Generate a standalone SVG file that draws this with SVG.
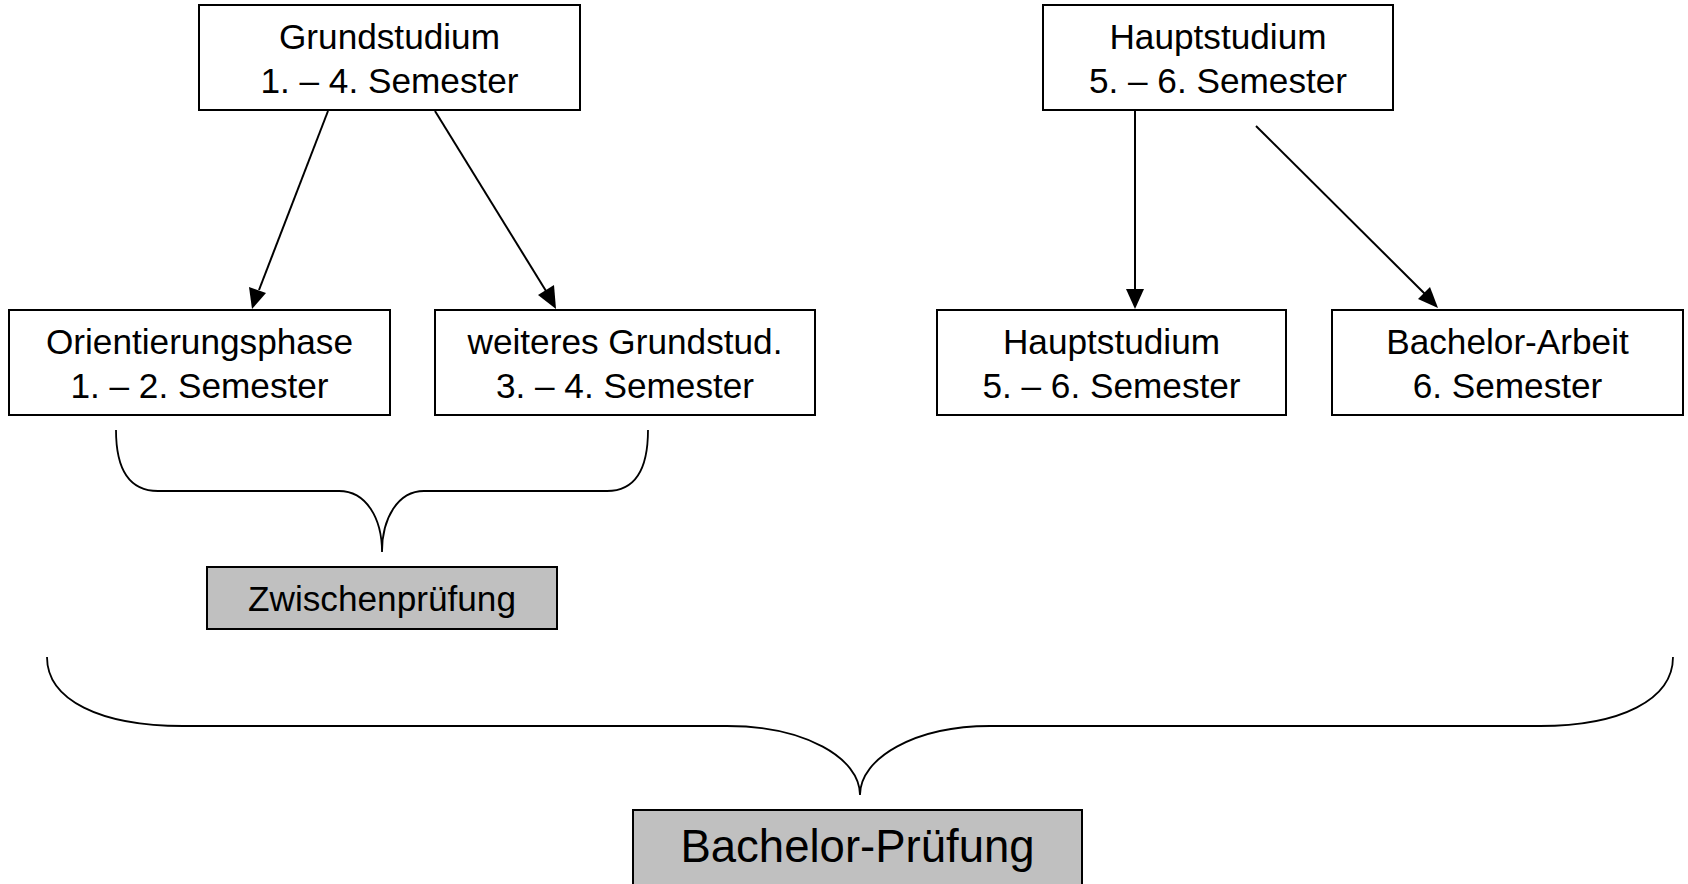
<svg xmlns="http://www.w3.org/2000/svg" width="1688" height="884" viewBox="0 0 1688 884">
<style>
.box{fill:#fff;stroke:#000;stroke-width:2}
.grey{fill:#c0c0c0;stroke:#000;stroke-width:2}
.t{font-family:"Liberation Sans",Arial,sans-serif;font-size:35.2px;fill:#000;text-anchor:middle}
.big{font-size:45.5px}
.edge{stroke:#000;stroke-width:2;fill:none}
.head{fill:#000}
.brace{stroke:#000;stroke-width:1.8;fill:none}
</style>
<rect width="1688" height="884" fill="#fff"/>
<g id="connectors">
<path class="edge" d="M328,111 L259,290"/>
<path class="head" d="M252,309 L249,287 L266,293 z"/>
<path class="edge" d="M435,111 L546,291"/>
<path class="head" d="M556,309 L538,295 L554,285 z"/>
<path class="edge" d="M1135,111 L1135,290"/>
<path class="head" d="M1135,309 L1126,289 L1144,289 z"/>
<path class="edge" d="M1256,126 L1425,294"/>
<path class="head" d="M1438,308 L1418,299 L1430,287 z"/>
<path class="brace" d="M116,430 C116,468 128,491 158,491 L339,491 C366,491 382,518 382,552 C382,518 398,491 424,491 L607,491 C636,491 648,468 648,430"/>
<path class="brace" d="M47,657 C47,700 100,726 183,726 L727,726 C805,726 860,758 860,795 C860,758 915,726 990,726 L1540,726 C1620,726 1673,700 1673,657"/>
</g>
<g id="grundstudium">
<rect class="box" x="199" y="5" width="381" height="105"/>
<text class="t" x="389.5" y="49">Grundstudium</text>
<text class="t" x="389.5" y="93">1. – 4. Semester</text>
</g>
<g id="hauptstudium-top">
<rect class="box" x="1043" y="5" width="350" height="105"/>
<text class="t" x="1218" y="49">Hauptstudium</text>
<text class="t" x="1218" y="93">5. – 6. Semester</text>
</g>
<g id="orientierungsphase">
<rect class="box" x="9" y="310" width="381" height="105"/>
<text class="t" x="199.5" y="354">Orientierungsphase</text>
<text class="t" x="199.5" y="398">1. – 2. Semester</text>
</g>
<g id="weiteres">
<rect class="box" x="435" y="310" width="380" height="105"/>
<text class="t" x="625" y="354">weiteres Grundstud.</text>
<text class="t" x="625" y="398">3. – 4. Semester</text>
</g>
<g id="hauptstudium-low">
<rect class="box" x="937" y="310" width="349" height="105"/>
<text class="t" x="1111.5" y="354">Hauptstudium</text>
<text class="t" x="1111.5" y="398">5. – 6. Semester</text>
</g>
<g id="bachelorarbeit">
<rect class="box" x="1332" y="310" width="351" height="105"/>
<text class="t" x="1507.5" y="354">Bachelor-Arbeit</text>
<text class="t" x="1507.5" y="398">6. Semester</text>
</g>
<g id="zwischenpruefung">
<rect class="grey" x="207" y="567" width="350" height="62"/>
<text class="t" x="382" y="611">Zwischenprüfung</text>
</g>
<g id="bachelorpruefung">
<rect class="grey" x="633" y="810" width="449" height="90"/>
<text class="t big" x="857.5" y="862">Bachelor-Prüfung</text>
</g>
</svg>
